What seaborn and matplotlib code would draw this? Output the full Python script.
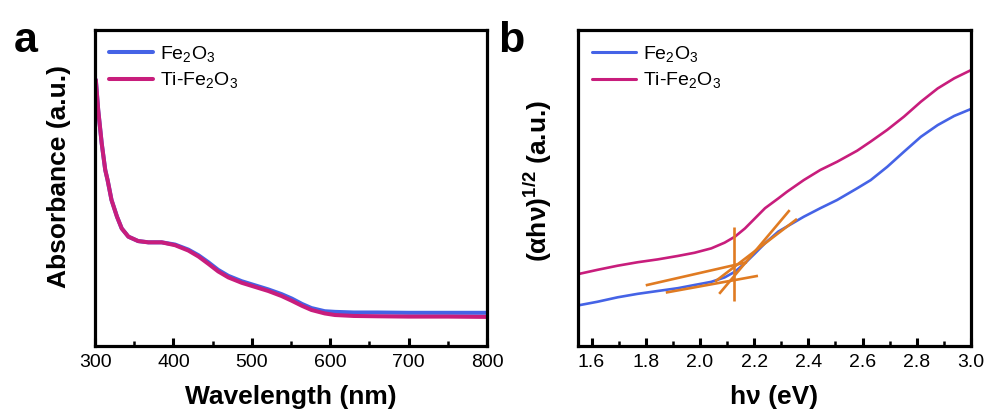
import numpy as np
import pandas as pd
import matplotlib
matplotlib.use("Agg")
import matplotlib.pyplot as plt
from matplotlib.ticker import MultipleLocator, NullLocator, FormatStrFormatter
from matplotlib.lines import Line2D
import seaborn as sns

# ---- (a) UV-vis absorbance ----
wavelength = [301, 304, 308.5, 313, 316, 321, 328, 334, 342.5, 355, 368, 385, 402,
              419, 432, 444.5, 457, 470, 487, 504, 521, 538, 551, 564, 576, 593,
              606, 630, 660, 700, 750, 800]
abs_fe2o3 = [0.842, 0.747, 0.641, 0.557, 0.525, 0.462, 0.409, 0.372, 0.346, 0.332,
             0.328, 0.328, 0.321, 0.305, 0.287, 0.265, 0.241, 0.222, 0.205, 0.192,
             0.179, 0.164, 0.150, 0.133, 0.120, 0.110, 0.108, 0.106, 0.106, 0.105,
             0.105, 0.105]
abs_ti_fe2o3 = [0.842, 0.747, 0.641, 0.557, 0.525, 0.462, 0.409, 0.372, 0.346, 0.332,
                0.328, 0.328, 0.319, 0.302, 0.283, 0.260, 0.236, 0.217, 0.200, 0.187,
                0.174, 0.158, 0.143, 0.127, 0.114, 0.103, 0.098, 0.095, 0.094, 0.093,
                0.093, 0.092]

# ---- (b) Tauc plot ----
energy = [1.548, 1.622, 1.696, 1.770, 1.844, 1.919, 1.980, 2.042, 2.091, 2.129,
          2.166, 2.203, 2.240, 2.289, 2.321, 2.383, 2.444, 2.506, 2.580, 2.630,
          2.691, 2.753, 2.815, 2.877, 2.938, 3.0]
tauc_fe2o3 = [0.128, 0.140, 0.154, 0.165, 0.174, 0.183, 0.193, 0.203, 0.217, 0.235,
              0.262, 0.293, 0.325, 0.362, 0.378, 0.409, 0.436, 0.462, 0.499, 0.525,
              0.567, 0.615, 0.662, 0.699, 0.728, 0.750]
tauc_ti = [0.227, 0.241, 0.254, 0.265, 0.274, 0.285, 0.295, 0.309, 0.327, 0.346,
           0.372, 0.404, 0.436, 0.467, 0.488, 0.525, 0.557, 0.583, 0.618, 0.647,
           0.684, 0.726, 0.773, 0.815, 0.847, 0.873]

# Band-gap extrapolation segments (x0, x1), (y0, y1)
fit_x = [(2.127, 2.127), (2.071, 2.331), (2.056, 2.358), (1.800, 2.173), (1.874, 2.214)]
fit_y = [(0.376, 0.143), (0.165, 0.430), (0.204, 0.402), (0.192, 0.265), (0.169, 0.222)]

labels = ["Fe$_2$O$_3$", "Ti-Fe$_2$O$_3$"]
colors = ["#4563E6", "#C81D7C"]
fit_color = "#E07B22"

sns.set_style("ticks")
plt.rcParams["font.family"] = ["Liberation Sans", "DejaVu Sans"]
plt.rcParams["mathtext.default"] = "regular"
for key in ("text.color", "axes.labelcolor", "xtick.color", "ytick.color",
            "axes.edgecolor"):
    plt.rcParams[key] = "black"

df_a = pd.DataFrame({
    "x": wavelength + wavelength,
    "y": abs_fe2o3 + abs_ti_fe2o3,
    "sample": [labels[0]] * len(wavelength) + [labels[1]] * len(wavelength),
})
df_b = pd.DataFrame({
    "x": energy + energy,
    "y": tauc_fe2o3 + tauc_ti,
    "sample": [labels[0]] * len(energy) + [labels[1]] * len(energy),
})
palette = dict(zip(labels, colors))

fig = plt.figure(figsize=(9.87, 4.17), dpi=100)
ax_a = fig.add_axes([0.0963, 0.1703, 0.3972, 0.7578])
ax_b = fig.add_axes([0.5856, 0.1703, 0.3982, 0.7578])

sns.lineplot(data=df_a, x="x", y="y", hue="sample", palette=palette,
             linewidth=2.9, ax=ax_a, legend=False, sort=True)
sns.lineplot(data=df_b, x="x", y="y", hue="sample", palette=palette,
             linewidth=1.9, ax=ax_b, legend=False, sort=True)
for xs, ys in zip(fit_x, fit_y):
    ax_b.plot(xs, ys, color=fit_color, lw=1.9, solid_capstyle="butt", zorder=5)


def style(ax, xlim, major, minor, xlabel, ylabel, lw, label_y):
    ax.set_xlim(*xlim)
    ax.set_ylim(0, 1)
    ax.xaxis.set_major_locator(MultipleLocator(major))
    ax.xaxis.set_minor_locator(MultipleLocator(minor))
    ax.yaxis.set_major_locator(NullLocator())
    ax.tick_params(axis="x", which="major", direction="in", length=6, width=2.2,
                   labelsize=14, pad=6, top=False)
    ax.tick_params(axis="x", which="minor", direction="in", length=3.5, width=1.8,
                   top=False)
    for sp in ax.spines.values():
        sp.set_visible(True)
        sp.set_linewidth(2.3)
        sp.set_color("black")
    ax.set_xlabel(xlabel, fontsize=19, fontweight="bold", labelpad=10)
    ax.set_ylabel(ylabel, fontsize=19, fontweight="bold", labelpad=17)
    ax.yaxis.label.set_y(label_y)
    handles = [Line2D([], [], color=c, lw=lw) for c in colors]
    ax.legend(handles, labels, loc="upper left", frameon=False, fontsize=14,
              handlelength=2.3, handletextpad=0.35, labelspacing=0.35,
              borderaxespad=0.3, bbox_to_anchor=(0.0, 1.0))


style(ax_a, (300, 800), 100, 50, "Wavelength (nm)", "Absorbance (a.u.)", 2.9, 0.535)
style(ax_b, (1.55, 3.0), 0.2, 0.1, "hν (eV)", "(αhν)$^{1/2}$ (a.u.)", 2.2, 0.522)
ax_b.xaxis.set_major_formatter(FormatStrFormatter("%.1f"))

fig.text(0.014, 0.875, "a", fontsize=31, fontweight="bold")
fig.text(0.505, 0.875, "b", fontsize=31, fontweight="bold")

fig.savefig("out.png", dpi=100)
